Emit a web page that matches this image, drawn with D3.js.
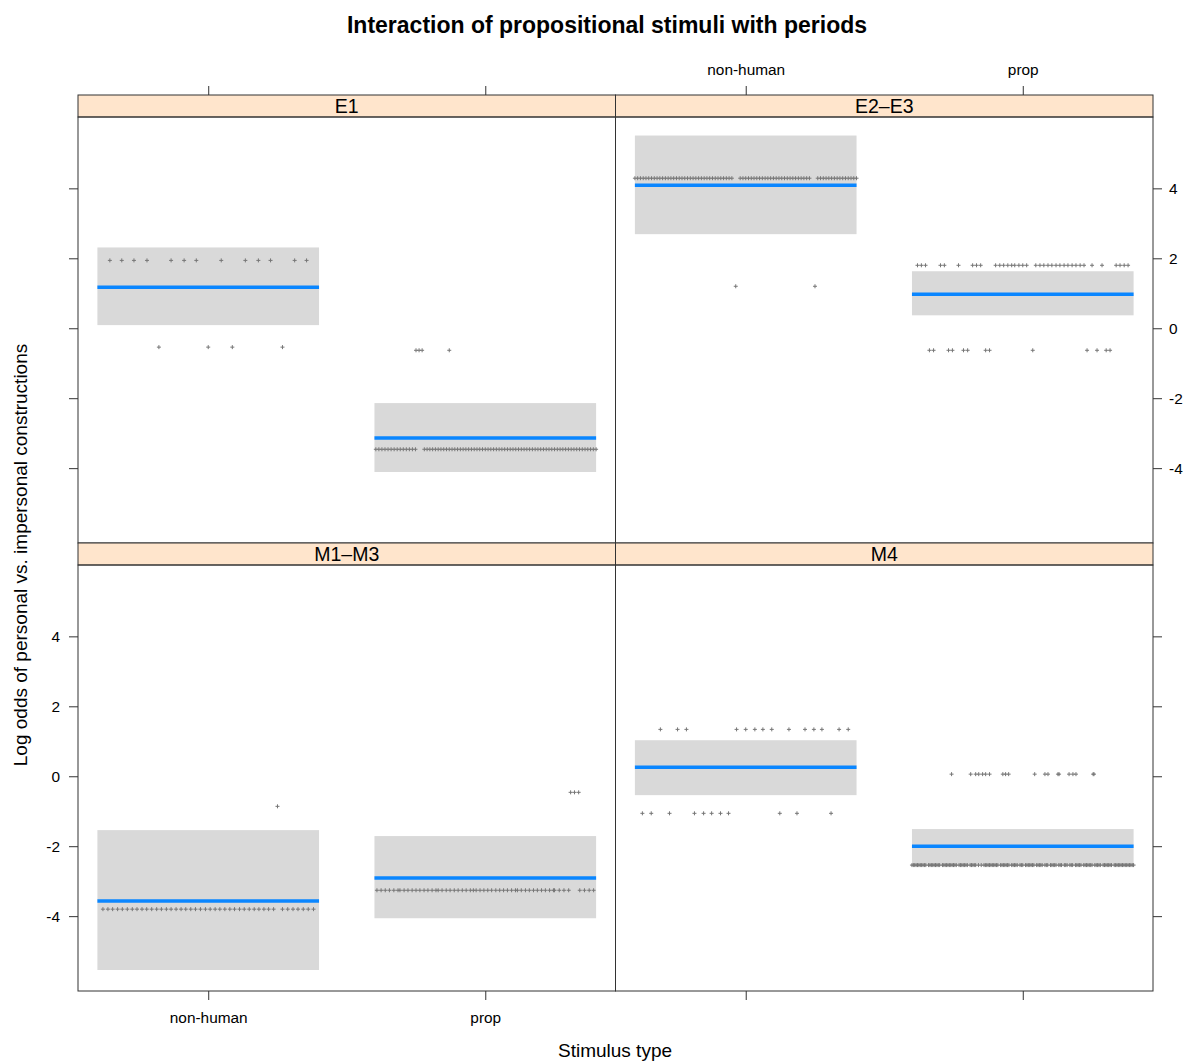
<!DOCTYPE html>
<html>
<head>
<meta charset="utf-8">
<script src="https://cdn.jsdelivr.net/npm/d3@7"></script>
<style>
  body { margin: 0; background: #fff; }
  text { font-family: "Liberation Sans", Arial, sans-serif; }
</style>
</head>
<body>
<div id="chart"></div>
<script>
// panels in lattice order, left-to-right then top-to-bottom
var panelNames = ["E1", "E2\u2013E3", "M1\u2013M3", "M4"]
var categories = ["non-human", "prop"]
var yTicks = [-4, -2, 0, 2, 4]

// fitted log odds and confidence band, per panel: [non-human, prop]
var fitValues = [[1.17, -3.14], [4.09, 0.97], [-3.57, -2.91], [0.26, -2.0]]
var lowerValues = [[0.09, -4.11], [2.69, 0.37], [-5.54, -4.06], [-0.54, -2.51]]
var upperValues = [[2.31, -2.14], [5.51, 1.63], [-1.54, -1.71], [1.03, -1.51]]

// residual rows: [log odds, horizontal offsets in 1/100 of a category]
var e1NonHuman = [
  [1.94, [-35.5, -31.2, -26.8, -22.1, -13.4, -8.7, -4.3, 4.7, 13.4, 18.1, 22.5, 31.2, 35.5]],
  [-0.54, [-17.8, 0, 8.7, 26.8]]
]
var e1Prop = [
  [-0.63, [-25, -23.9, -22.8, -13]],
  [-3.46, [-39.5, -38.4, -37.3, -36.2, -35.1, -34, -32.9, -31.8, -30.7, -29.6, -28.5, -27.4, -26.3, -25.2,
    -22, -21, -20, -19, -18, -17, -16, -15, -14, -13, -12, -11, -10, -9, -8, -7, -6, -5, -4, -3, -2, -1, 0,
    1, 2, 3, 4, 5, 6, 7, 8, 9, 10, 11, 12, 13, 14, 15, 16, 17, 18, 19, 20, 21, 22, 23, 24, 25, 26, 27, 28,
    29, 30, 31, 32, 33, 34, 35, 36, 37, 38, 39, 40]]
]
var e2NonHuman = [
  [4.29, [-40, -39, -38, -37, -36, -35, -34, -33, -32, -31, -30, -29, -28, -27, -26, -25, -24, -23, -22,
    -21, -20, -19, -18, -17, -16, -15, -14, -13, -12, -11, -10, -9, -8, -7, -6, -5,
    -2, -1, 0, 1, 2, 3, 4, 5, 6, 7, 8, 9, 10, 11, 12, 13, 14, 15, 16, 17, 18, 19, 20, 21, 22, 23,
    26, 27, 28, 29, 30, 31, 32, 33, 34, 35, 36, 37, 38, 39, 40]],
  [1.2, [-3.6, 25]]
]
var e2Prop = [
  [1.8, [-38, -36.6, -35.1, -29.7, -28.3, -23.2, -18.1, -16.7, -15.2, -9.8, -8.3, -6.9, -5.4, -4, -2.9,
    -1.4, 0, 1.4, 4.7, 6.2, 7.6, 9.1, 10.5, 12, 13.4, 14.9, 16.3, 17.8, 19.2, 20.7, 22.1, 25, 28.6, 33.7,
    35.1, 36.6, 38]],
  [-0.63, [-33.7, -32.2, -26.8, -25.4, -21.4, -19.9, -13.4, -12, 3.6, 23.2, 26.8, 30.1, 31.5]]
]
var m1NonHuman = [
  [-0.86, [25]],
  [-3.8, [-38, -36.2, -34.5, -32.7, -31, -29.2, -27.4, -25.7, -23.9, -22.2, -20.4, -18.6, -16.9, -15.1,
    -13.4, -11.6, -9.8, -8.1, -6.3, -4.6, -2.8, -1, 0.7, 2.5, 4.2, 6, 7.8, 9.5, 11.3, 13, 14.8, 16.6,
    18.3, 20.1, 21.8, 23.6, 26.8, 28.7, 30.6, 32.4, 34.3, 36.1, 38]]
]
var m1Prop = [
  [-0.46, [30.8, 32.2, 33.7]],
  [-3.26, [-39.1, -37.6, -36.1, -34.6, -33, -31.5, -30.8, -29.3, -27.9, -26.4, -25, -23.6, -22.1, -20.7,
    -19.2, -17.8, -17, -15.6, -14.1, -12.7, -11.2, -9.8, -8.3, -6.9, -5.4, -4.3, -3.3, -1.9, -0.5, 0.9,
    2.3, 3.8, 5.2, 6.6, 8, 9.5, 10.9, 11.6, 13, 14.5, 15.9, 17.4, 18.8, 20.3, 21.7, 23.2, 24.6, 25, 26.7,
    28.4, 30.1, 34.1, 35.8, 37.5, 39.1]]
]
var m4NonHuman = [
  [1.34, [-30.8, -24.6, -21.4, -3.3, 0, 3.3, 6.2, 9.4, 15.6, 21.4, 24.6, 27.5, 33.7, 37]],
  [-1.06, [-37.3, -34.1, -27.5, -18.5, -15.2, -12.3, -9.1, -6.2, 12.3, 18.5, 30.8]]
]
var m4Prop = [
  [0.06, [-25.7, -18.8, -17, -15.9, -14.5, -13.4, -12, -7.2, -6.2, -5.1, 4.3, 8, 9.1, 12.7, 13.1, 16.7,
    18.1, 19.2, 25.4, 25.7]],
  [-2.54, [-40, -39, -38, -37, -36, -35, -34, -33, -32, -31, -30, -29, -28, -27, -26, -25, -24, -23, -22,
    -21, -20, -19, -18, -17, -16, -15, -14, -13, -12, -11, -10, -9, -8, -7, -6, -5, -4, -3, -2, -1, 0, 1,
    2, 3, 4, 5, 6, 7, 8, 9, 10, 11, 12, 13, 14, 15, 16, 17, 18, 19, 20, 21, 22, 23, 24, 25, 26, 27, 28,
    29, 30, 31, 32, 33, 34, 35, 36, 37, 38, 39, 40,
    -39.5, -38.5, -37.5, -36.5, -35.5, -33.5, -32.5, -31.5, -30.5, -28.5, -27.5, -26.5, -25.5, -24.5,
    -22.5, -21.5, -20.5, -18.5, -17.5, -13.5, -12.5, -11.5, -10.5, -9.5, -7.5, -6.5, -5.5, -3.5, -2.5,
    -0.5, 1.5, 2.5, 3.5, 5.5, 6.5, 8.5, 10.5, 11.5, 13.5, 15.5, 17.5, 19.5, 20.5, 22.5, 23.5, 24.5, 26.5,
    27.5, 29.5, 30.5, 31.5, 33.5, 34.5, 35.5, 36.5, 37.5, 38.5, 39.5]]
]
var residuals = [[e1NonHuman, e1Prop], [e2NonHuman, e2Prop], [m1NonHuman, m1Prop], [m4NonHuman, m4Prop]]

;(function() {
  var width = 1185, height = 1061
  var marginLeft = 78, marginRight = 1153, stripTop0 = 95
  var stripH = 22, bodyH = 426
  var colW = (marginRight - marginLeft) / 2

  var svg = d3.select("#chart").append("svg")
    .attr("width", width)
    .attr("height", height)

  svg.append("text")
    .attr("x", 607).attr("y", 33)
    .attr("text-anchor", "middle")
    .attr("font-size", 23).attr("font-weight", "bold")
    .text("Interaction of propositional stimuli with periods")

  svg.append("text")
    .attr("x", 615).attr("y", 1057)
    .attr("text-anchor", "middle")
    .attr("font-size", 19)
    .text("Stimulus type")

  svg.append("text")
    .attr("transform", "translate(27,555) rotate(-90)")
    .attr("text-anchor", "middle")
    .attr("font-size", 19)
    .text("Log odds of personal vs. impersonal constructions")

  var defs = svg.append("defs")

  panelNames.forEach(function(name, p) {
    var col = p % 2, row = Math.floor(p / 2)
    var x0 = marginLeft + col * colW
    var stripTop = stripTop0 + row * (stripH + bodyH)
    var bodyTop = stripTop + stripH

    var xScale = d3.scaleLinear().domain([0.53, 2.47]).range([x0, x0 + colW])
    var yScale = d3.scaleLinear().domain([-6.14, 6.04]).range([bodyTop + bodyH, bodyTop])

    defs.append("clipPath").attr("id", "clip" + p)
      .append("rect")
      .attr("x", x0).attr("y", bodyTop)
      .attr("width", colW).attr("height", bodyH)

    var g = svg.append("g").attr("clip-path", "url(#clip" + p + ")")

    // confidence bands
    g.selectAll(".band")
      .data(categories)
      .enter().append("rect")
      .attr("class", "band")
      .attr("x", function(d, i) { return xScale(i + 0.6) })
      .attr("width", function(d, i) { return xScale(i + 1.4) - xScale(i + 0.6) })
      .attr("y", function(d, i) { return yScale(upperValues[p][i]) })
      .attr("height", function(d, i) { return yScale(lowerValues[p][i]) - yScale(upperValues[p][i]) })
      .attr("fill", "#d9d9d9")

    // partial residuals
    var pts = []
    residuals[p].forEach(function(rows, c) {
      rows.forEach(function(r) {
        r[1].forEach(function(off) { pts.push({ x: c + 1 + off / 100, y: r[0] }) })
      })
    })
    g.selectAll(".pt")
      .data(pts)
      .enter().append("path")
      .attr("class", "pt")
      .attr("d", function(d) {
        var px = xScale(d.x), py = yScale(d.y)
        return "M" + (px - 2) + "," + py + "H" + (px + 2) + "M" + px + "," + (py - 2) + "V" + (py + 2)
      })
      .attr("stroke", "#767676")
      .attr("stroke-width", 1)

    // fitted values
    g.selectAll(".fit")
      .data(categories)
      .enter().append("line")
      .attr("class", "fit")
      .attr("x1", function(d, i) { return xScale(i + 0.6) })
      .attr("x2", function(d, i) { return xScale(i + 1.4) })
      .attr("y1", function(d, i) { return yScale(fitValues[p][i]) })
      .attr("y2", function(d, i) { return yScale(fitValues[p][i]) })
      .attr("stroke", "#0a86ff")
      .attr("stroke-width", 3.5)

    // strip
    svg.append("rect")
      .attr("x", x0).attr("y", stripTop)
      .attr("width", colW).attr("height", stripH)
      .attr("fill", "#ffe5cc")
      .attr("stroke", "#333").attr("stroke-width", 1)
    svg.append("text")
      .attr("x", x0 + colW / 2).attr("y", stripTop + 18)
      .attr("text-anchor", "middle")
      .attr("font-size", 19.5)
      .text(name)

    // panel border
    svg.append("rect")
      .attr("x", x0).attr("y", bodyTop)
      .attr("width", colW).attr("height", bodyH)
      .attr("fill", "none")
      .attr("stroke", "#333").attr("stroke-width", 1)

    // axes, alternating as lattice does
    var catFormat = function(d) { return categories[d - 1] }
    var noLabel = function() { return "" }
    var numFormat = function(d) { return String(d) }

    if (row === 0) {
      var xTop = d3.axisTop(xScale).tickValues([1, 2]).tickSize(9).tickSizeOuter(0)
        .tickPadding(11).tickFormat(col === 1 ? catFormat : noLabel)
      svg.append("g").attr("class", "axis").attr("transform", "translate(0," + stripTop + ")").call(xTop)
    } else {
      var xBottom = d3.axisBottom(xScale).tickValues([1, 2]).tickSize(9).tickSizeOuter(0)
        .tickPadding(12).tickFormat(col === 0 ? catFormat : noLabel)
      svg.append("g").attr("class", "axis").attr("transform", "translate(0," + (bodyTop + bodyH) + ")").call(xBottom)
    }
    if (col === 0) {
      var yLeft = d3.axisLeft(yScale).tickValues(yTicks).tickSize(9).tickSizeOuter(0)
        .tickPadding(9).tickFormat(row === 1 ? numFormat : noLabel)
      svg.append("g").attr("class", "axis").attr("transform", "translate(" + x0 + ",0)").call(yLeft)
    } else {
      var yRight = d3.axisRight(yScale).tickValues(yTicks).tickSize(9).tickSizeOuter(0)
        .tickPadding(7).tickFormat(row === 0 ? numFormat : noLabel)
      svg.append("g").attr("class", "axis").attr("transform", "translate(" + (x0 + colW) + ",0)").call(yRight)
    }
  })

  svg.selectAll(".axis .domain").remove()
  svg.selectAll(".axis line").attr("stroke", "#333")
  svg.selectAll(".axis text")
    .attr("font-family", "Liberation Sans, Arial, sans-serif")
    .attr("font-size", 15.4)
    .attr("fill", "#000")
})()
</script>
</body>
</html>
